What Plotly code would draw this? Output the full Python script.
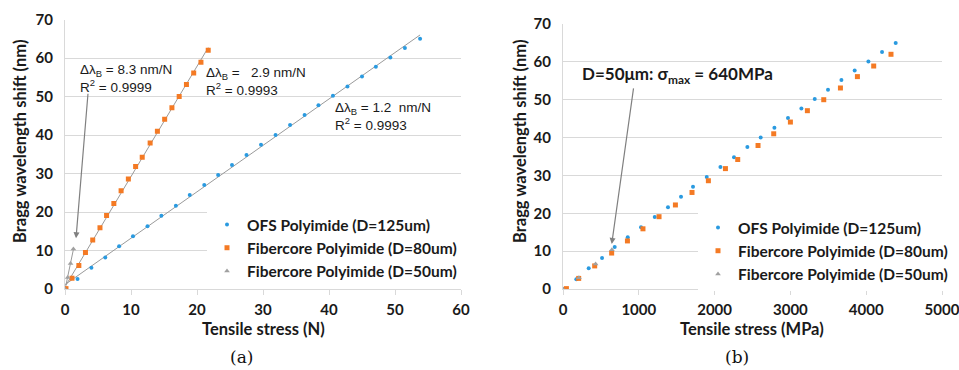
import numpy as np
import plotly.graph_objects as go

# Bragg wavelength shift versus applied load / stress for three polyimide-coated fibres
ofs_force_n = [0, 1.9, 4.0, 6.1, 8.2, 10.3, 12.5, 14.6, 16.8, 18.9, 21.1, 23.2, 25.3,
               27.5, 29.7, 31.9, 34.1, 36.3, 38.4, 40.6, 42.8, 45.0, 47.1, 49.3, 51.5, 53.8]
ofs_stress_mpa = [0, 176, 339, 515, 682, 854, 1029, 1210, 1385, 1557, 1715, 1896, 2077,
                  2256, 2432, 2608, 2789, 2968, 3145, 3321, 3496, 3673, 3848, 4029, 4209, 4389]
ofs_shift_nm = [0, 2.6, 5.5, 8.2, 11.1, 13.7, 16.3, 19.0, 21.6, 24.4, 27.0, 29.6, 32.2,
                34.8, 37.5, 40.0, 42.6, 45.2, 47.7, 50.2, 52.6, 55.2, 57.7, 60.1, 62.6, 65.0]

fc80_force_n = [0.15, 1.06, 2.1, 3.1, 4.2, 5.3, 6.3, 7.4, 8.5, 9.6, 10.7, 11.7, 12.9,
                14.0, 15.1, 16.2, 17.3, 18.4, 19.5, 20.6, 21.7]
fc80_stress_mpa = [45, 207, 418, 642, 850, 1055, 1267, 1483, 1702, 1918, 2143, 2305, 2573,
                   2780, 3000, 3224, 3440, 3660, 3884, 4099, 4327]
fc80_shift_nm = [0.1, 2.8, 6.1, 9.5, 12.7, 15.9, 19.1, 22.2, 25.5, 28.6, 31.8, 34.2, 37.9,
                 41.0, 44.1, 47.1, 50.0, 53.1, 56.1, 58.9, 62.0]

fc50_force_n = [0, 0.41, 0.84, 1.27]
fc50_stress_mpa = [0, 210, 430, 645]
fc50_shift_nm = [0, 3.0, 6.6, 10.4]

series_names = ["OFS Polyimide (D=125um)", "Fibercore Polyimide (D=80um)",
                "Fibercore Polyimide (D=50um)"]
series_colors = ["#2a9ae0", "#f47a24", "#a0a0a0"]
series_symbols = ["circle", "square", "triangle-up"]
series_sizes = [4, 5, 5]

W, H = 959, 370
BOLD = "Lato"
GRID = "#d9d9d9"


def px(v):
    return v / W


def py(v):
    return 1 - v / H


fig = go.Figure()

left = [(ofs_force_n, ofs_shift_nm), (fc80_force_n, fc80_shift_nm), (fc50_force_n, fc50_shift_nm)]
right = [(ofs_stress_mpa, ofs_shift_nm), (fc80_stress_mpa, fc80_shift_nm),
         (fc50_stress_mpa, fc50_shift_nm)]

# linear trend lines on the force panel
for xs, ys in left:
    k, b = np.polyfit(xs, ys, 1)
    xl = np.array([min(xs), max(xs)])
    fig.add_trace(go.Scatter(x=xl, y=k * xl + b, mode="lines", xaxis="x", yaxis="y",
                             line=dict(color="#9a9a9a", width=1), showlegend=False,
                             hoverinfo="skip"))

for i, (xs, ys) in enumerate(left):
    fig.add_trace(go.Scatter(x=xs, y=ys, mode="markers", name=series_names[i],
                             xaxis="x", yaxis="y", legend="legend",
                             marker=dict(color=series_colors[i], symbol=series_symbols[i],
                                         size=series_sizes[i], line=dict(width=0))))

for i, (xs, ys) in enumerate(right):
    fig.add_trace(go.Scatter(x=xs, y=ys, mode="markers", name=series_names[i],
                             xaxis="x2", yaxis="y2", legend="legend2",
                             marker=dict(color=series_colors[i], symbol=series_symbols[i],
                                         size=series_sizes[i], line=dict(width=0))))

tickfont = dict(family=BOLD, size=15, color="#1a1a1a", weight="bold")
common_x = dict(showgrid=False, zeroline=False, showline=True, linecolor=GRID, linewidth=1,
                ticks="outside", ticklen=5, tickcolor=GRID, tickfont=tickfont,
                ticklabelstandoff=2, automargin=False, ticklabeloverflow="allow")
common_y = dict(showgrid=True, gridcolor=GRID, gridwidth=1, zeroline=False, showline=True,
                linecolor=GRID, linewidth=1, ticks="", tickfont=tickfont,
                ticklabelstandoff=8, range=[0, 70], dtick=10, automargin=False)

legend_font = dict(family=BOLD, size=15.5, color="#1a1a1a", weight="bold")
fig.update_layout(
    width=W, height=H, margin=dict(l=0, r=0, t=0, b=0, autoexpand=False),
    paper_bgcolor="white", plot_bgcolor="white",
    xaxis=dict(domain=[px(65), px(461)], anchor="y", range=[0, 60], dtick=10, **common_x),
    yaxis=dict(domain=[py(289), py(19.5)], anchor="x", **common_y),
    xaxis2=dict(domain=[px(563), px(942)], anchor="y2", range=[0, 5000], dtick=1000, **common_x),
    yaxis2=dict(domain=[py(289), py(24)], anchor="x2", **common_y),
    legend=dict(x=px(207), y=py(208), xanchor="left", yanchor="top", bgcolor="white",
                font=legend_font, itemsizing="trace", tracegroupgap=0, itemwidth=30),
    legend2=dict(x=px(698), y=py(211), xanchor="left", yanchor="top", bgcolor="white",
                 font=legend_font, itemsizing="trace", tracegroupgap=0, itemwidth=30),
    showlegend=True,
)

title_font = dict(family=BOLD, size=16.5, color="#1a1a1a", weight="bold")
label_font = dict(family="Liberation Sans", size=13.5, color="#1a1a1a")
tag_font = dict(family="DejaVu Serif", size=17, color="#111")
annotations = [
    # axis titles
    dict(text="Tensile stress (N)", x=px(263), y=py(329), font=title_font),
    dict(text="Tensile stress (MPa)", x=px(752), y=py(329), font=title_font),
    dict(text="Bragg wavelength shift (nm)", x=px(20), y=py(142), textangle=-90, font=title_font),
    dict(text="Bragg wavelength shift (nm)", x=px(520), y=py(142), textangle=-90, font=title_font),
    # panel tags
    dict(text="(a)", x=px(241), y=py(357), font=tag_font),
    dict(text="(b)", x=px(737), y=py(357), font=tag_font),
    # sensitivity labels
    dict(text="Δλ<sub>B</sub> = 8.3 nm/N<br>R<sup>2</sup> = 0.9999", x=px(78), y=py(60),
         xanchor="left", yanchor="top", align="left", font=label_font),
    dict(text="Δλ<sub>B</sub> =   2.9 nm/N<br>R<sup>2</sup> = 0.9993", x=px(204), y=py(63),
         xanchor="left", yanchor="top", align="left", font=label_font),
    dict(text="Δλ<sub>B</sub> = 1.2  nm/N<br>R<sup>2</sup> = 0.9993", x=px(333), y=py(98),
         xanchor="left", yanchor="top", align="left", font=label_font),
    dict(text="D=50μm: σ<sub>max</sub> = 640MPa", x=px(580), y=py(75), xanchor="left",
         yanchor="middle", font=dict(family=BOLD, size=17, color="#1a1a1a", weight="bold")),
]
for a in annotations:
    a.setdefault("xref", "paper")
    a.setdefault("yref", "paper")
    a.setdefault("xanchor", "center")
    a.setdefault("yanchor", "middle")
    a.setdefault("showarrow", False)
    fig.add_annotation(**a)

# pointer arrows to the D=50um data
fig.add_annotation(x=1.67, y=13.2, ax=3.5, ay=51.1, xref="x", yref="y", axref="x", ayref="y",
                   showarrow=True, arrowhead=2, arrowsize=1, arrowwidth=1.2,
                   arrowcolor="#808080", text="")
fig.add_annotation(x=643, y=11.9, ax=933, ay=53.4, xref="x2", yref="y2", axref="x2", ayref="y2",
                   showarrow=True, arrowhead=2, arrowsize=1, arrowwidth=1.2,
                   arrowcolor="#808080", text="")

fig.write_html("out.html")
